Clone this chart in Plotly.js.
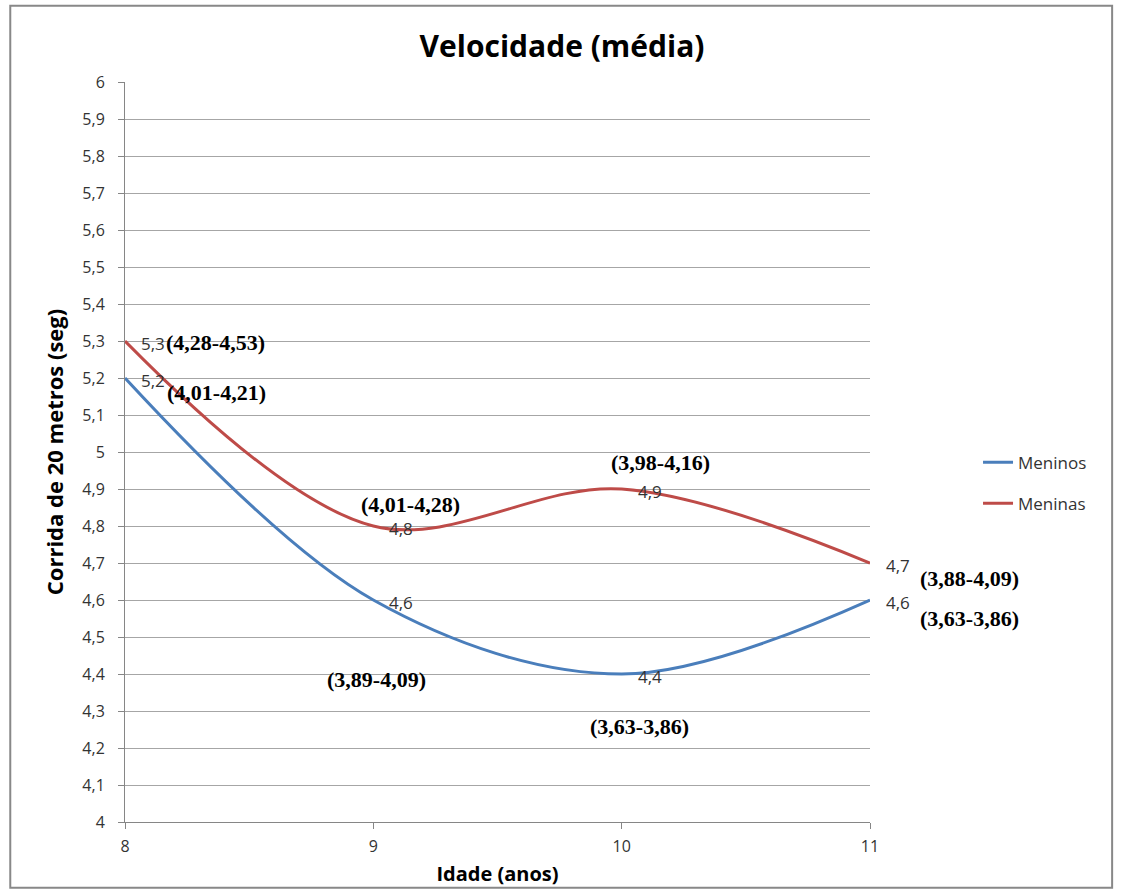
<!DOCTYPE html>
<html>
<head>
<meta charset="utf-8">
<script src="https://cdn.plot.ly/plotly-3.0.1.min.js"></script>
<style>html,body{margin:0;padding:0;background:#fff;}#chart{width:1124px;height:894px;}</style>
</head>
<body>
<div id="chart"></div>
<script>
var ages = [8, 9, 10, 11];
var meninos = [5.2, 4.6, 4.4, 4.6];
var meninas = [5.3, 4.8, 4.9, 4.7];
var meninosLabels = ["5,2", "4,6", "4,4", "4,6"];
var meninasLabels = ["5,3", "4,8", "4,9", "4,7"];
var meninosIntervals = ["(4,01-4,21)", "(3,89-4,09)", "(3,63-3,86)", "(3,63-3,86)"];
var meninasIntervals = ["(4,28-4,53)", "(4,01-4,28)", "(3,98-4,16)", "(3,88-4,09)"];

var blue = "#4A7EBB", red = "#BE4B48";

var traces = [
  {x: ages, y: meninos, name: "Meninos", mode: "lines", legendgroup: "a",
   line: {color: blue, width: 3, shape: "spline", smoothing: 1}, hoverinfo: "none"},
  {x: ages, y: meninas, name: "Meninas", mode: "lines", legendgroup: "b",
   line: {color: red, width: 3, shape: "spline", smoothing: 1}, hoverinfo: "none"}
];

var annotations = [];
function addValueLabels(vals, labels) {
  for (var i = 0; i < vals.length; i++) {
    annotations.push({x: ages[i], y: vals[i], text: labels[i], showarrow: false,
      xanchor: "left", yanchor: "middle", xshift: 14, yshift: -2,
      font: {family: "Open Sans, sans-serif", size: 17, color: "#333"}});
  }
}
addValueLabels(meninas, meninasLabels);
addValueLabels(meninos, meninosLabels);

// interval label placements (layout positions: paper x, data y)
var meninasIntPos = [[0.122, 5.295], [0.383, 4.857], [0.719, 4.972], [1.133, 4.657]];
var meninosIntPos = [[0.123, 5.162], [0.338, 4.386], [0.690, 4.259], [1.133, 4.551]];
function addIntervals(texts, pos) {
  for (var i = 0; i < texts.length; i++) {
    annotations.push({xref: "paper", yref: "y", x: pos[i][0], y: pos[i][1], text: "<b>" + texts[i] + "</b>", showarrow: false,
      xanchor: "center", yanchor: "middle",
      font: {family: "Liberation Serif, Times New Roman, serif", size: 22, color: "#000"}});
  }
}
addIntervals(meninasIntervals, meninasIntPos);
addIntervals(meninosIntervals, meninosIntPos);

var layout = {
  width: 1124, height: 894,
  margin: {l: 125, r: 254, t: 82, b: 72},
  paper_bgcolor: "#fff", plot_bgcolor: "#fff",
  separators: ",.",
  showlegend: true,
  title: {text: "<b>Velocidade (média)</b>", x: 0.5, xanchor: "center", y: 0.948, yanchor: "middle",
    font: {family: "Open Sans, sans-serif", size: 30, color: "#000"}},
  xaxis: {range: [8, 11], tickvals: ages, ticktext: ["8", "9", "10", "11"],
    showgrid: false, zeroline: false, showline: true, linecolor: "#868686", linewidth: 1,
    ticks: "outside", ticklen: 6, tickcolor: "#868686", ticklabelstandoff: 4,
    tickfont: {family: "Open Sans, sans-serif", size: 16, color: "#333"},
    title: {text: "<b>Idade (anos)</b>", standoff: 10, font: {family: "Open Sans, sans-serif", size: 20, color: "#000"}}},
  yaxis: {range: [4, 6], dtick: 0.1, tick0: 4, showgrid: true, gridcolor: "#A6A6A6", gridwidth: 1,
    zeroline: false, showline: true, linecolor: "#868686", linewidth: 1,
    ticks: "outside", ticklen: 6, tickcolor: "#868686", ticklabelstandoff: 10,
    tickfont: {family: "Open Sans, sans-serif", size: 16, color: "#333"},
    title: {text: "<b>Corrida de 20 metros (seg)</b>", standoff: 12, font: {family: "Open Sans, sans-serif", size: 22, color: "#000"}}},
  legend: {x: 1.145, y: 0.458, xanchor: "left", yanchor: "middle", tracegroupgap: 16,
    traceorder: "grouped", bgcolor: "rgba(0,0,0,0)",
    font: {family: "Open Sans, sans-serif", size: 17, color: "#333"}},
  annotations: annotations,
  shapes: [{type: "rect", xref: "paper", yref: "paper", x0: -0.154, x1: 1.325, y0: -0.089, y1: 1.103,
    line: {color: "#888", width: 2}, fillcolor: "rgba(0,0,0,0)", layer: "below"}]
};

Plotly.newPlot("chart", traces, layout, {displayModeBar: false, staticPlot: true});
</script>
</body>
</html>
